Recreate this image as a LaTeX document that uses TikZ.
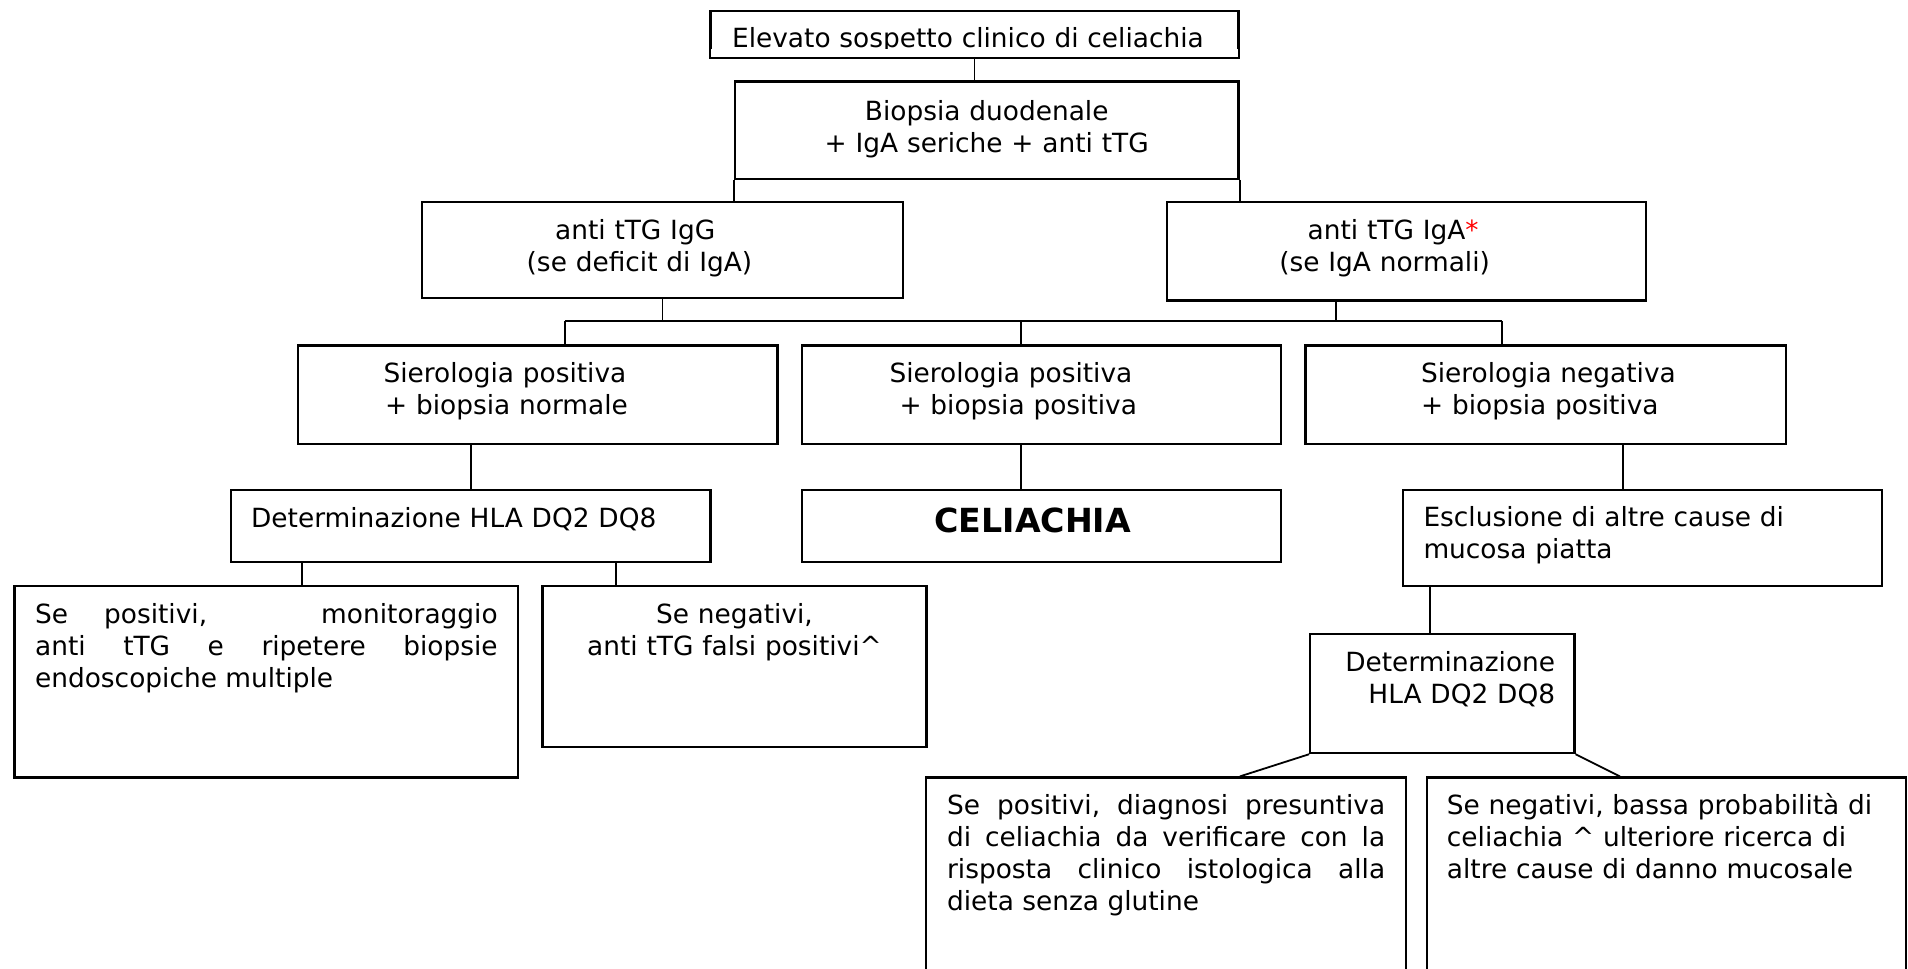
\documentclass[tikz,border=0pt]{standalone}
\usepackage{fontspec}
\setmainfont{DejaVu Sans}
\usepackage{tikz}
\tolerance=10000
\hbadness=10000

\newcommand{\txt}{\fontsize{13.2}{16}\selectfont}
\newcommand{\indt}[1]{\hspace*{#1pt}}

\tikzstyle{box}=[draw,line width=1.1pt,anchor=north west,inner ysep=0pt,inner xsep=10.5pt,font=\txt,text height=18.5pt]
\tikzstyle{link}=[draw,line width=0.9pt]

\begin{document}
\begin{tikzpicture}[x=1pt,y=-1pt]

  \path[use as bounding box,fill=white] (0,0) rectangle (954,484.3);
  \clip (0,0) rectangle (954,484.3);

  % first rows
  \node[box,inner xsep=10.85pt,text width=242.35pt,text height=18pt,text depth=5.35pt,align=left] (suspect) at (354.65,5) {Elevato sospetto clinico di celiachia};
  \fill[white] ([xshift=0.9pt,yshift=-1.2pt]suspect.base west) rectangle ([xshift=-0.9pt,yshift=0.9pt]suspect.south east);

  \node[box,text width=230.8pt,text height=19.5pt,text depth=29.1pt,align=center] (biopsy) at (366.9,40.2) {Biopsia duodenale\\+ IgA seriche + anti tTG};

  \node[box,inner xsep=0pt,text width=240.3pt,text height=19pt,text depth=29pt,align=left] (igg) at (210.5,100.4) {\indt{66.5}anti tTG IgG\\\indt{52.3}(se deficit di IgA)};
  \node[box,inner xsep=0pt,text width=239.8pt,text height=19pt,text depth=30.3pt,align=left] (iga) at (582.8,100.4) {\indt{70.5}anti tTG IgA{\color{red}*}\\\indt{56.3}(se IgA normali)};

  % serology + biopsy
  \node[box,inner xsep=0pt,text width=239.8pt,text height=18.6pt,text depth=30.7pt,align=left] (serpos1) at (148.4,172.2) {\indt{42.8}Sierologia positiva\\\indt{43.6}+ biopsia normale};
  \node[box,inner xsep=0pt,text width=239.5pt,text height=18.6pt,text depth=30.7pt,align=left] (serpos2) at (400.5,172.2) {\indt{43.7}Sierologia positiva\\\indt{48.7}+ biopsia positiva};
  \node[box,inner xsep=0pt,text width=240.3pt,text height=18.6pt,text depth=30.7pt,align=left] (serneg) at (652.2,172.2) {\indt{57.8}Sierologia negativa\\\indt{57.8}+ biopsia positiva};

  \node[box,inner xsep=10pt,text width=219.7pt,text depth=17.4pt,align=left] (hla1) at (115,244.6) {Determinazione HLA DQ2 DQ8};
  \node[box,inner xsep=0pt,text width=239.5pt,text height=21.2pt,text depth=14.7pt,align=left,font=\fontsize{16.6}{18}\selectfont\bfseries] (celiac) at (400.5,244.6) {\indt{66.2}CELIACHIA};
  \node[box,inner xsep=10.3pt,text width=219.1pt,text height=18pt,text depth=30pt,align=left] (excl) at (700.9,244.6) {Esclusione di altre cause di\\mucosa piatta};

  % outcomes
  \node[box,inner xsep=10.3pt,text width=231.3pt,text depth=77.1pt,align=justify] (pos1) at (6.7,292.6) {Se\hspace*{18pt}positivi,\hfill monitoraggio\linebreak anti~tTG~e~ripetere~biopsie\linebreak endoscopiche~multiple};
  \node[box,inner xsep=10pt,text width=172pt,text depth=61.9pt,align=center] (neg1) at (270.7,292.6) {Se negativi,\\anti tTG falsi positivi\textasciicircum};

  \node[box,inner xsep=9.7pt,text width=112.7pt,text height=18.6pt,text depth=41pt,align=right] (hla2) at (654.6,316.4) {Determinazione\\HLA DQ2 DQ8};

  \node[box,inner xsep=10.5pt,text width=219pt,text depth=95pt,align=justify] (pos2) at (462.5,388.2) {Se~positivi,~diagnosi~presuntiva\linebreak di~celiachia~da~verificare~con~la\linebreak risposta~clinico~istologica~alla\linebreak dieta~senza~glutine};
  \node[box,inner xsep=10pt,text width=219.5pt,text depth=95pt,align=left] (neg2) at (712.9,388.2) {Se negativi, bassa probabilità di\\celiachia \textasciicircum{} ulteriore ricerca di\\altre cause di danno mucosale};

  % connectors
  \coordinate (barL) at (282.5,160.5);
  \coordinate (barM) at (510.4,160.5);
  \coordinate (barR) at (750.8,160.5);
  \coordinate (igaOut) at ([xshift=-35.3pt]iga.south);
  \coordinate (exclIn) at ([xshift=-9.75pt]excl.north);
  \coordinate (hlaA) at ([xshift=35.9pt]hla1.south west);
  \coordinate (hlaB) at ([xshift=-48pt]hla1.south east);
  \coordinate (exclOut) at ([xshift=14pt]excl.south west);
  \coordinate (posIn) at ([xshift=36.9pt]pos2.north);
  \coordinate (negIn) at ([xshift=97.1pt]neg2.north west);

  \draw[link] (suspect.south) -- (suspect.south |- biopsy.north);
  \draw[link] (biopsy.south west) -- (biopsy.south west |- igg.north);
  \draw[link] (biopsy.south east) -- (biopsy.south east |- iga.north);
  \draw[link] (igg.south) -- (igg.south |- barL);
  \draw[link] (igaOut) -- (igaOut |- barL);
  \draw[link] (barL) -- (barR);
  \foreach \drop/\dest in {barL/serpos1, barM/serpos2, barR/serneg}
    \draw[link] (\drop) -- (\drop |- \dest.north);

  \draw[link] (hla1.north) -- (hla1.north |- serpos1.south);
  \draw[link] (barM |- serpos2.south) -- (barM |- celiac.north);
  \draw[link] (exclIn) -- (exclIn |- serneg.south);
  \draw[link] (hlaA) -- (hlaA |- pos1.north);
  \draw[link] (hlaB) -- (hlaB |- neg1.north);
  \draw[link] (exclOut) -- (exclOut |- hla2.north);
  \draw[link] (hla2.south west) -- (posIn);
  \draw[link] (hla2.south east) -- (negIn);

\end{tikzpicture}
\end{document}
